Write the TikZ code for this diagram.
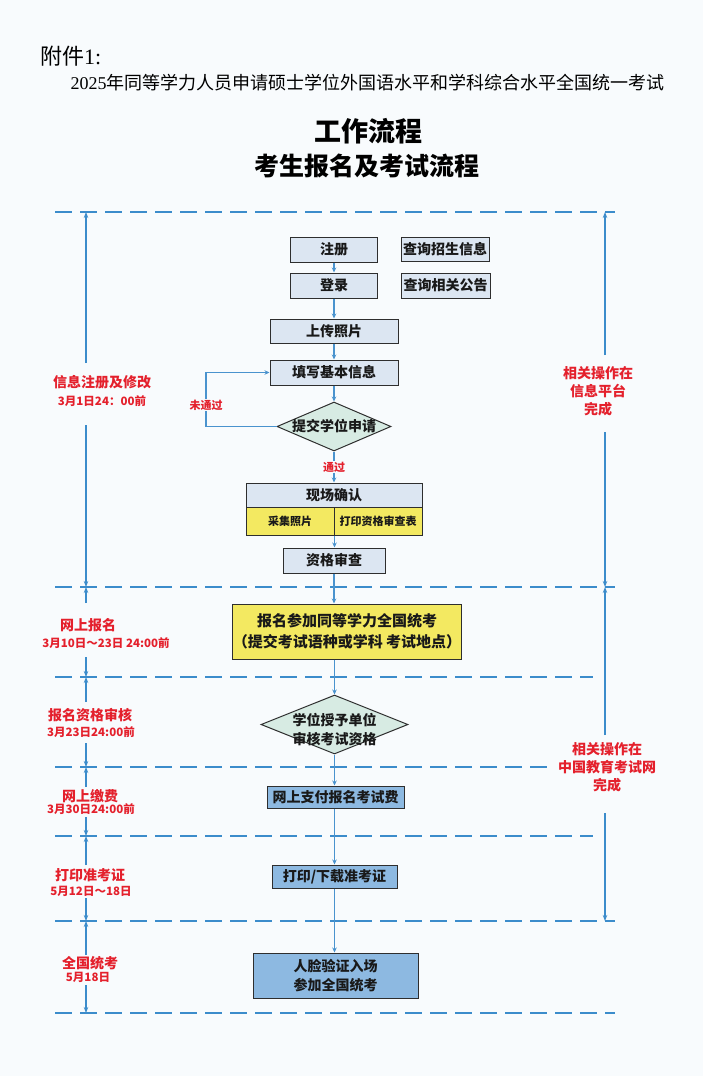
\documentclass[tikz,border=0pt]{standalone}
\usepackage{fontspec}
\setmainfont{Noto Sans CJK SC}
\newfontfamily\lserif{Liberation Serif}
\usetikzlibrary{arrows.meta,shapes.geometric}
\definecolor{bg}{HTML}{F8FBFD}
\definecolor{dashblue}{HTML}{3C8CCB}
\definecolor{flowblue}{HTML}{4A93CE}
\definecolor{lblue}{HTML}{DCE6F2}
\definecolor{yel}{HTML}{F3E961}
\definecolor{mblue}{HTML}{8DB9E1}
\definecolor{dgreen}{HTML}{D7EBE3}
\definecolor{redt}{HTML}{E4202C}
\definecolor{edge}{HTML}{2E2E2E}
\begin{document}
\begin{tikzpicture}[x=1pt,y=-1pt,
  box/.style={draw=edge, line width=1pt, inner sep=0pt, align=center,
    font=\bfseries\fontsize{14}{19}\selectfont, text=black!90},
  lbox/.style={box, fill=lblue},
  ybox/.style={box, fill=yel},
  bbox/.style={box, fill=mblue},
  dia/.style={draw=edge, line width=1pt, shape=diamond, fill=dgreen, inner sep=0pt},
  dtext/.style={align=center, inner sep=0pt, font=\bfseries\fontsize{14}{19}\selectfont, text=black!90},
  flow/.style={draw=flowblue, line width=1.1pt, -{Stealth[length=5pt,width=4.5pt]}},
  dashline/.style={draw=dashblue, line width=2.6pt, dash pattern=on 17pt off 8pt},
  varrow/.style={draw=dashblue, line width=1.3pt, -{Stealth[length=6pt,width=4.5pt]}},
  redt/.style={text=redt, inner sep=1pt, align=center},
  rtitle/.style={redt, font=\bfseries\fontsize{14}{18}\selectfont},
  rdate/.style={redt, font=\bfseries\fontsize{11.5}{13}\selectfont},
  passlbl/.style={redt, fill=bg, font=\bfseries\fontsize{11}{13}\selectfont},
]
\fill[bg] (0,0) rectangle (703,1076);
\useasboundingbox (0,0) rectangle (703,1076);

% header
\node[anchor=west, inner sep=0pt, font=\fontsize{22}{24}\selectfont] (fj) at (40,56) {附件{\lserif 1:}};
\node[inner sep=0pt, font=\fontsize{18}{20}\selectfont] (sub) at (367.5,83) {{\lserif 2025}年同等学力人员申请硕士学位外国语水平和学科综合水平全国统一考试};
\node[inner sep=0pt, font=\bfseries\fontsize{27}{29}\selectfont] (t1) at (368,131) {工作流程};
\node[inner sep=0pt, font=\bfseries\fontsize{25}{27}\selectfont] (t2) at (367,166) {考生报名及考试流程};

% dashed separators
\coordinate (hL1) at (55,212);  \coordinate (hR1) at (615,212);
\coordinate (hL2) at (55,587);  \coordinate (hR2) at (615,587);
\coordinate (hL3) at (55,677);  \coordinate (hR3) at (593,677);
\coordinate (hL4) at (55,767);  \coordinate (hR4) at (548,767);
\coordinate (hL5) at (55,836);  \coordinate (hR5) at (593,836);
\coordinate (hL6) at (55,921);  \coordinate (hR6) at (615,921);
\coordinate (hL7) at (55,1013); \coordinate (hR7) at (615,1013);
\foreach \i in {1,...,7} \draw[dashline] (hL\i) -- (hR\i);

% left labels
\node[rtitle] (l1a) at (102,382) {信息注册及修改};
\node[rdate]  (l1b) at (102,401) {3月1日24：00前};
\node[rtitle] (l2a) at (88,625)  {网上报名};
\node[rdate]  (l2b) at (106,643) {3月10日～23日 24:00前};
\node[rtitle] (l3a) at (90,715)  {报名资格审核};
\node[rdate]  (l3b) at (91,732)  {3月23日24:00前};
\node[rtitle] (l4a) at (90,796)  {网上缴费};
\node[rdate]  (l4b) at (91,809)  {3月30日24:00前};
\node[rtitle] (l5a) at (90,875)  {打印准考证};
\node[rdate]  (l5b) at (91,891)  {5月12日～18日};
\node[rtitle] (l6a) at (90,963)  {全国统考};
\node[rdate]  (l6b) at (88,977)  {5月18日};

% right labels
\node[rtitle] (r1) at (598,391) {相关操作在\\信息平台\\完成};
\node[rtitle] (r2) at (607,767) {相关操作在\\中国教育考试网\\完成};

% vertical range arrows
\coordinate (lx) at (86,0);
\coordinate (rx) at (605,0);
\foreach \s/\t in {363/1,425/2,603/2,657/3,702/3,743/4,787/4,817/5,865/5,898/6,955/6,985/7}{
  \coordinate (la\s) at (86,\s);
  \draw[varrow] (la\s) -- (lx |- hL\t);
}
\foreach \s/\t in {355/1,432/2,735/2,813/6}{
  \coordinate (ra\s) at (605,\s);
  \draw[varrow] (ra\s) -- (rx |- hL\t);
}

% flow nodes
\node[lbox, minimum width=87pt, minimum height=25pt] (reg)   at (334,249.5) {注册};
\node[lbox, minimum width=87pt, minimum height=25pt] (login) at (334,285.5) {登录};
\node[lbox, minimum width=88pt, minimum height=24pt] (q1)    at (445,249.5) {查询招生信息};
\node[lbox, minimum width=89pt, minimum height=25pt] (q2)    at (445.5,285.5) {查询相关公告};
\node[lbox, minimum width=128pt, minimum height=24pt] (photo) at (334,331) {上传照片};
\node[lbox, minimum width=128pt, minimum height=25pt] (info)  at (334,372.5) {填写基本信息};
\node[dia, minimum width=114pt, minimum height=49pt] (d1) at (334,426.5) {};
\node[dtext] (d1t) at (d1.center) {提交学位申请};

\node[lbox, minimum width=176pt, minimum height=24pt] (conft) at (334,495) {现场确认};
\node[ybox, minimum width=88pt, minimum height=28pt, font=\bfseries\fontsize{11}{13}\selectfont] (confl) at (290,521) {采集照片};
\node[ybox, minimum width=88pt, minimum height=28pt, font=\bfseries\fontsize{11}{13}\selectfont] (confr) at (378,521) {打印资格审查表};
\node[lbox, minimum width=102pt, minimum height=25pt] (check) at (334,560.5) {资格审查};
\node[ybox, minimum width=200pt, minimum height=55pt, font=\bfseries\fontsize{15}{21}\selectfont] (enroll) at (347,631.5)
  {报名参加同等学力全国统考\\（提交考试语种或学科 考试地点）};
\node[dia, minimum width=147pt, minimum height=59pt] (d2) at (334.5,724.5) {};
\node[dtext] (d2t) at (334.5,730) {学位授予单位\\审核考试资格};
\node[bbox, minimum width=137pt, minimum height=22pt] (pay)   at (335.5,797) {网上支付报名考试费};
\node[bbox, minimum width=125pt, minimum height=23pt] (print) at (334.5,876.5) {打印/下载准考证};
\node[bbox, minimum width=165pt, minimum height=45pt] (face)  at (335.5,975.5) {人脸验证入场\\参加全国统考};

% flow connectors
\draw[flow] (reg.south) -- (login.north);
\draw[flow] (login.south) -- (photo.north);
\draw[flow] (photo.south) -- (info.north);
\draw[flow] (info.south) -- (d1.north);
\draw[flow] (d1.south) -- node[passlbl]{通过} (conft.north);
\coordinate (loopc) at (206,0);
\draw[flow] (d1.west) -- (d1.west -| loopc) -- node[passlbl, pos=0.4]{未通过} (loopc |- info.west) -- (info.west);
\draw[flow] (confl.south east) -- (confl.south east |- check.north);
\draw[flow] (check.south) -- (check.south |- enroll.north);
\draw[flow] (d2.north |- enroll.south) -- (d2.north);
\draw[flow] (d2.south) -- (d2.south |- pay.north);
\draw[flow] (pay.south -| d2.south) -- (d2.south |- print.north);
\draw[flow] (print.south) -- (print.south |- face.north);
\end{tikzpicture}
\end{document}
